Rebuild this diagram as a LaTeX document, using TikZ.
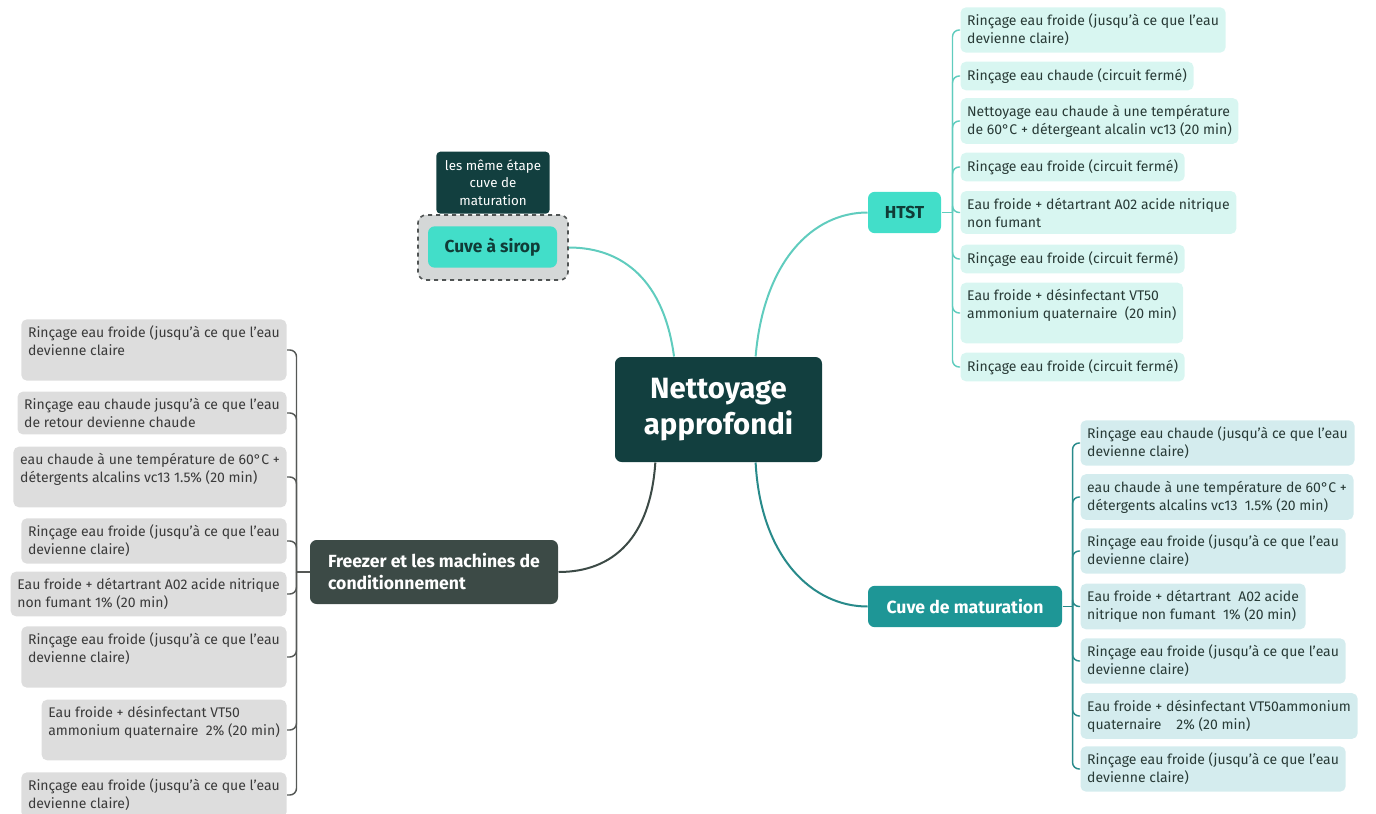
\documentclass[tikz,border=0pt]{standalone}
\usepackage{fontspec}
\setmainfont{Fira Sans}
\usetikzlibrary{positioning}

\definecolor{cNett}{RGB}{18,63,63}
\definecolor{cTurq}{RGB}{66,222,201}
\definecolor{cTurqText}{RGB}{16,60,55}
\definecolor{cTurqLine}{RGB}{96,204,190}
\definecolor{cMat}{RGB}{30,150,150}
\definecolor{cMatLine}{RGB}{40,138,138}
\definecolor{cFreez}{RGB}{60,74,70}
\definecolor{cFreezLine}{RGB}{85,88,86}
\definecolor{cHalo}{RGB}{212,215,215}
\definecolor{cHaloDraw}{RGB}{80,84,84}
\definecolor{cLeafH}{RGB}{216,246,241}
\definecolor{cLeafM}{RGB}{212,236,238}
\definecolor{cLeafF}{RGB}{221,221,221}
\definecolor{cLeafText}{RGB}{40,58,54}
\definecolor{cLeafFText}{RGB}{58,58,58}

\newcommand{\leaffont}{\fontsize{10.5}{13.5}\selectfont}

\tikzset{every picture/.style={line width=0.75pt}}
\tikzset{
  mainbox/.style={rectangle, rounded corners=5pt, fill=cNett, text=white, align=center,
    font=\bfseries\fontsize{22}{27}\selectfont, minimum width=155.25pt, minimum height=78.75pt},
  turqbox/.style={rectangle, rounded corners=5pt, fill=cTurq, text=cTurqText,
    font=\bfseries\fontsize{13}{15}\selectfont, minimum height=31pt},
  halo/.style={rectangle, rounded corners=6pt, fill=cHalo, draw=cHaloDraw, dashed,
    line width=1.2pt, minimum width=112.5pt, minimum height=48.75pt},
  notebox/.style={rectangle, rounded corners=3pt, fill=cNett, text=white, align=center,
    font=\fontsize{10}{13}\selectfont, inner xsep=2pt, minimum width=85pt, minimum height=46.5pt, anchor=south},
  freezbox/.style={rectangle, rounded corners=5pt, fill=cFreez, text=white, align=left,
    font=\bfseries\fontsize{13.2}{16.5}\selectfont, minimum width=186pt, minimum height=48pt},
  matbox/.style={rectangle, rounded corners=5pt, fill=cMat, text=white,
    font=\bfseries\fontsize{13.2}{15}\selectfont, minimum width=145.5pt, minimum height=31pt},
  leafH/.style={rectangle, rounded corners=4pt, fill=cLeafH, text=cLeafText, align=left,
    font=\leaffont, inner xsep=5pt, inner ysep=5pt, minimum height=21pt, anchor=west},
  leafM/.style={leafH, fill=cLeafM},
  leafF/.style={leafH, fill=cLeafF, text=cLeafFText, anchor=east},
  turqline/.style={draw=cTurqLine, line width=1.5pt},
  freezline/.style={draw=cFreez, line width=1.5pt},
  matline/.style={draw=cMatLine, line width=1.5pt},
  htstleg/.style={draw=cTurqLine, line width=1.1pt, rounded corners=5pt},
  matleg/.style={draw=cMatLine, line width=1.1pt, rounded corners=5pt},
  freezleg/.style={draw=cFreezLine, line width=1.1pt, rounded corners=5pt}
}

\begin{document}
\begin{tikzpicture}[x=0.75pt,y=0.75pt,yscale=-1,xscale=1]
\useasboundingbox (0,0) rectangle (1376,813);

%Rounded Rect -- centre
\node[mainbox] (nett) at (718.5,409.5) {Nettoyage\\approfondi};

%Rounded Rect -- branches
\node[turqbox, minimum width=54.75pt] (htst) at (904.5,212.5) {HTST};
\node[halo] (sirophalo) at (493,247.5) {};
\node[turqbox, minimum width=96.75pt] (sirop) at (492.5,247) {Cuve à sirop};
\node[notebox] (note) at (sirophalo.north) {les même étape\\cuve de\\maturation};
\node[freezbox] (freez) at (434,572) {Freezer et les machines de\\conditionnement};
\node[matbox] (matur) at (965,606.5) {Cuve de maturation};

%Curve Lines
\draw[turqline] (nett.130) .. controls +(-10,-75) and +(55,0) .. (sirophalo.east);
\draw[turqline] (nett.55) .. controls +(8,-95) and +(-55,0) .. (htst.west);
\draw[freezline] (nett.220) .. controls +(-5,75) and +(55,0) .. (freez.east);
\draw[matline] (nett.305) .. controls +(5,95) and +(-55,0) .. (matur.west);

% Text Node -- HTST
\node[leafH] (h1) at (960,30) {Rinçage eau froide (jusqu'à ce que l'eau\\devienne claire)};
\node[leafH] (h2) at (960,76) {Rinçage eau chaude (circuit fermé)};
\node[leafH] (h3) at (960,121) {Nettoyage eau chaude à une température\\de 60°C + détergeant alcalin vc13 (20 min)};
\node[leafH] (h4) at (960,167) {Rinçage eau froide (circuit fermé)};
\node[leafH] (h5) at (960,212.5) {Eau froide + détartrant A02 acide nitrique\\non fumant};
\node[leafH] (h6) at (960,259) {Rinçage eau froide (circuit fermé)};
\node[leafH] (h7) at (960,313) {Eau froide + désinfectant VT50\\ammonium quaternaire\ \ (20 min)\\\mbox{}};
\node[leafH] (h8) at (960,367) {Rinçage eau froide (circuit fermé)};

% Text Node -- Cuve de maturation
\node[leafM] (m1) at (1080,443) {Rinçage eau chaude (jusqu'à ce que l'eau\\devienne claire)};
\node[leafM] (m2) at (1080,497) {eau chaude à une température de 60°C +\\détergents alcalins vc13\ \ 1.5\% (20 min)};
\node[leafM] (m3) at (1080,551) {Rinçage eau froide (jusqu'à ce que l'eau\\devienne claire)};
\node[leafM] (m4) at (1080,606.5) {Eau froide + détartrant\ \ A02 acide\\nitrique non fumant\ \ 1\% (20 min)};
\node[leafM] (m5) at (1080,661) {Rinçage eau froide (jusqu'à ce que l'eau\\devienne claire)};
\node[leafM] (m6) at (1080,716) {Eau froide + désinfectant VT50ammonium\\quaternaire\ \ \ \ 2\% (20 min)};
\node[leafM] (m7) at (1080,769) {Rinçage eau froide (jusqu'à ce que l'eau\\devienne claire)};

% Text Node -- Freezer
\node[leafF] (f1) at (287,350) {Rinçage eau froide (jusqu'à ce que l'eau\\devienne claire\\\mbox{}};
\node[leafF] (f2) at (287,413) {Rinçage eau chaude jusqu'à ce que l'eau\\de retour devienne chaude};
\node[leafF] (f3) at (287,477) {eau chaude à une température de 60°C +\\détergents alcalins vc13 1.5\% (20 min)\\\mbox{}};
\node[leafF] (f4) at (287,541) {Rinçage eau froide (jusqu'à ce que l'eau\\devienne claire)};
\node[leafF] (f5) at (287,594) {Eau froide + détartrant A02 acide nitrique\\non fumant 1\% (20 min)};
\node[leafF] (f6) at (287,657) {Rinçage eau froide (jusqu'à ce que l'eau\\devienne claire)\\\mbox{}};
\node[leafF] (f7) at (287,730) {Eau froide + désinfectant VT50\\ammonium quaternaire\ \ 2\% (20 min)\\\mbox{}};
\node[leafF] (f8) at (287,795) {Rinçage eau froide (jusqu'à ce que l'eau\\devienne claire)};

%Straight Lines -- spines
\coordinate (hspine) at ([xshift=8.25pt]htst.east);
\coordinate (mspine) at ([xshift=7.5pt]matur.east);
\coordinate (fspine) at ([xshift=-9.75pt]freez.west);
\draw[htstleg] (htst.east) -- (hspine);
\draw[matleg] (matur.east) -- (mspine);
\draw[freezleg] (freez.west) -- (fspine);
\foreach \l in {h1,h2,h3,h4,h5,h6,h7,h8}
  \draw[htstleg] (hspine) |- (\l.west);
\foreach \l in {m1,m2,m3,m4,m5,m6,m7}
  \draw[matleg] (mspine) |- (\l.west);
\foreach \l in {f1,f2,f3,f4,f5,f6,f7,f8}
  \draw[freezleg] (fspine) |- (\l.east);

\end{tikzpicture}
\end{document}
